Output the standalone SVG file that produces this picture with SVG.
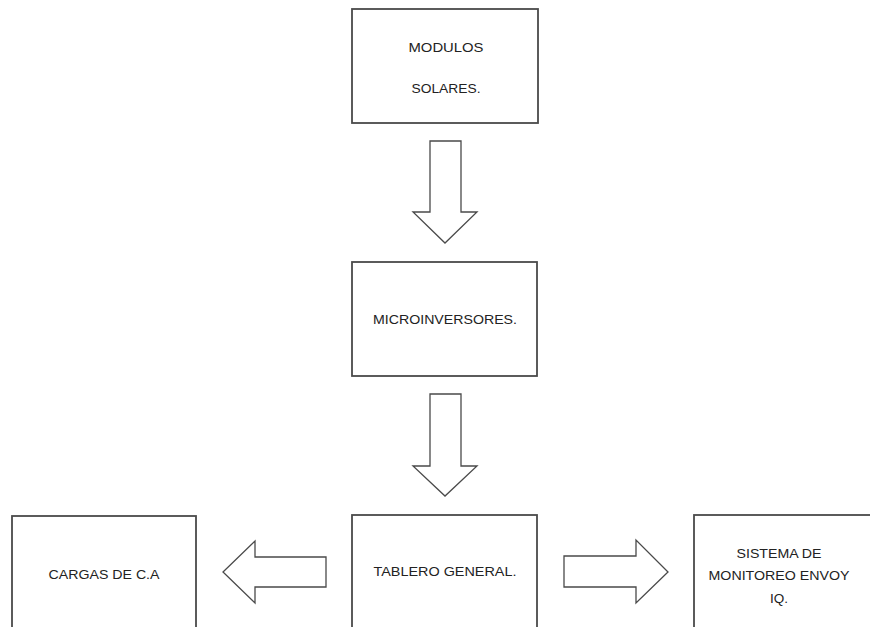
<svg xmlns="http://www.w3.org/2000/svg" width="870" height="627" viewBox="0 0 870 627">
  <style>
    .box { fill: #ffffff; stroke: #4a4a4a; stroke-width: 1.8; }
    .arrow { fill: #ffffff; stroke: #4a4a4a; stroke-width: 1.3; stroke-linejoin: miter; }
    .label { font-family: "Liberation Sans", Arial, sans-serif; font-size: 13.5px; fill: #222222; text-anchor: middle; }
  </style>
  <rect width="870" height="627" fill="#ffffff"/>

  <g id="modulos-solares">
    <rect class="box" x="352" y="9" width="186" height="114"/>
    <text class="label" x="446" y="52" textLength="75" lengthAdjust="spacingAndGlyphs">MODULOS</text>
    <text class="label" x="446" y="93" textLength="69" lengthAdjust="spacingAndGlyphs">SOLARES.</text>
  </g>

  <g id="microinversores">
    <rect class="box" x="352" y="262" width="185" height="114"/>
    <text class="label" x="445" y="324" textLength="144" lengthAdjust="spacingAndGlyphs">MICROINVERSORES.</text>
  </g>

  <g id="tablero-general">
    <rect class="box" x="352" y="515" width="185" height="130"/>
    <text class="label" x="445" y="576" textLength="143" lengthAdjust="spacingAndGlyphs">TABLERO GENERAL.</text>
  </g>

  <g id="cargas-ca">
    <rect class="box" x="12" y="516" width="184" height="130"/>
    <text class="label" x="104" y="579" textLength="111" lengthAdjust="spacingAndGlyphs">CARGAS DE C.A</text>
  </g>

  <g id="sistema-monitoreo">
    <rect class="box" x="694" y="515" width="200" height="130"/>
    <text class="label" x="779" y="558" textLength="85" lengthAdjust="spacingAndGlyphs">SISTEMA DE</text>
    <text class="label" x="779" y="580" textLength="141" lengthAdjust="spacingAndGlyphs">MONITOREO ENVOY</text>
    <text class="label" x="779" y="603">IQ.</text>
  </g>

  <g id="connectors">
    <!-- block arrow: modulos -> microinversores -->
    <polygon class="arrow" points="430,141 461,141 461,212 477,212 445,243 413,212 430,212"/>
    <!-- block arrow: microinversores -> tablero -->
    <polygon class="arrow" points="430,394 461,394 461,466 477,466 445,496 413,466 430,466"/>
    <!-- block arrow: tablero -> cargas -->
    <polygon class="arrow" points="326,557 326,587 255,587 255,603 223,572 255,541 255,557"/>
    <!-- block arrow: tablero -> sistema de monitoreo -->
    <polygon class="arrow" points="564,556 636,556 636,540 668,572 636,603 636,587 564,587"/>
  </g>
</svg>
